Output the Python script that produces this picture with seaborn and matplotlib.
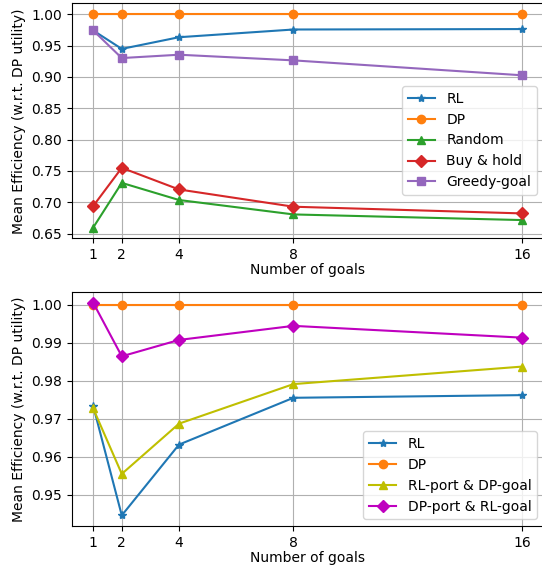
import matplotlib
matplotlib.use("Agg")
import matplotlib.pyplot as plt
import seaborn as sns

goals = [1, 2, 4, 8, 16]

# top panel
rl = [0.974, 0.9446, 0.9632, 0.9755, 0.9762]
dp = [1.0, 1.0, 1.0, 1.0, 1.0]
random_pol = [0.6597, 0.731, 0.7037, 0.6807, 0.6717]
buy_hold = [0.694, 0.755, 0.7205, 0.693, 0.6823]
greedy_goal = [0.974, 0.930, 0.9353, 0.9263, 0.9025]

# bottom panel
rl_b = [0.9734, 0.9446, 0.9632, 0.9755, 0.9762]
rlport_dpgoal = [0.9727, 0.9555, 0.9687, 0.9791, 0.9837]
dpport_rlgoal = [1.0005, 0.9864, 0.9907, 0.9944, 0.9913]

top_series = [
    ("RL", rl, "tab:blue", "*"),
    ("DP", dp, "tab:orange", "o"),
    ("Random", random_pol, "tab:green", "^"),
    ("Buy & hold", buy_hold, "tab:red", "D"),
    ("Greedy-goal", greedy_goal, "tab:purple", "s"),
]
bottom_series = [
    ("RL", rl_b, "tab:blue", "*"),
    ("DP", dp, "tab:orange", "o"),
    ("RL-port & DP-goal", rlport_dpgoal, "y", "^"),
    ("DP-port & RL-goal", dpport_rlgoal, "m", "D"),
]

fig = plt.figure(figsize=(5.42, 5.68), dpi=100)
ax1 = fig.add_axes([0.1323, 0.5805, 0.871, 0.4134])
ax2 = fig.add_axes([0.1323, 0.0739, 0.871, 0.412])


def draw(ax, series):
    for name, vals, col, mk in series:
        sns.lineplot(x=goals, y=vals, ax=ax, color=col, marker=mk, label=name,
                     markeredgecolor=col, markeredgewidth=1.0, markersize=6,
                     linewidth=1.5)
    ax.set_xticks(goals)
    ax.grid(True)
    ax.set_xlabel("Number of goals", labelpad=1)
    ax.set_ylabel("Mean Efficiency (w.r.t. DP utility)")


draw(ax1, top_series)
draw(ax2, bottom_series)
ax1.set_yticks([0.65, 0.70, 0.75, 0.80, 0.85, 0.90, 0.95, 1.00])
ax2.set_yticks([0.95, 0.96, 0.97, 0.98, 0.99, 1.00])
ax1.yaxis.set_major_formatter(matplotlib.ticker.FormatStrFormatter("%.2f"))
ax2.yaxis.set_major_formatter(matplotlib.ticker.FormatStrFormatter("%.2f"))

ax1.legend(loc="upper right", bbox_to_anchor=(1.0, 0.678))
ax2.legend(loc="lower right")

fig.savefig("out.png", dpi=100)
